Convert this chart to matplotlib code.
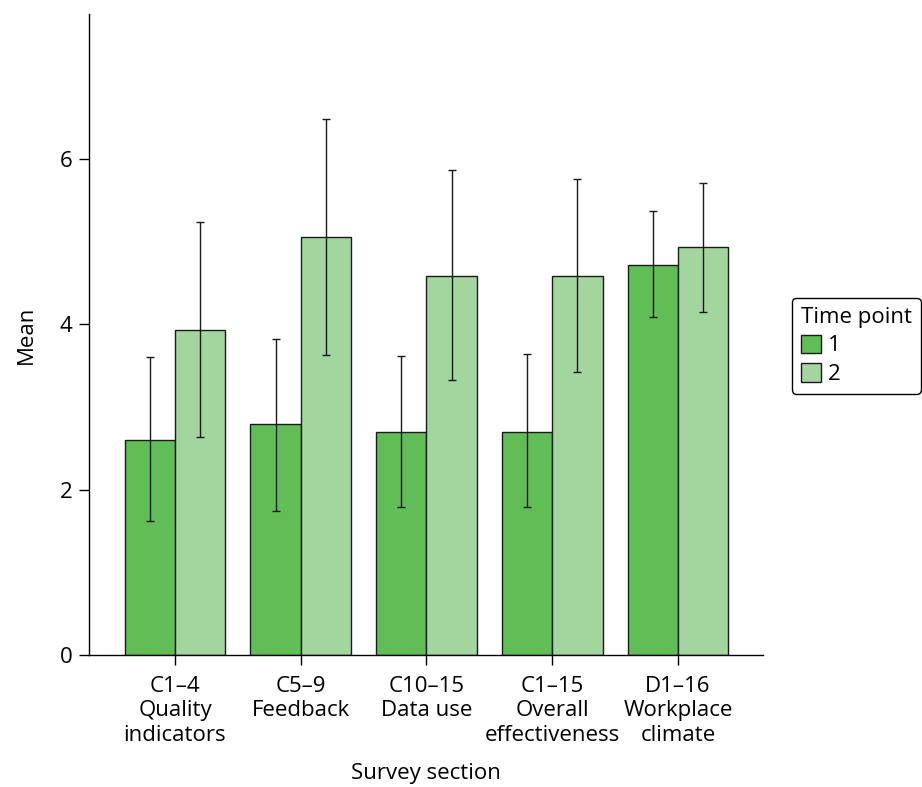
import matplotlib.pyplot as plt
import numpy as np

plt.rcParams["font.family"] = ["Open Sans", "DejaVu Sans"]

sections = [
    "C1–4\nQuality\nindicators",
    "C5–9\nFeedback",
    "C10–15\nData use",
    "C1–15\nOverall\neffectiveness",
    "D1–16\nWorkplace\nclimate",
]
time_points = ["1", "2"]

mean_t1 = [2.60, 2.79, 2.70, 2.70, 4.72]
low_t1 = [1.62, 1.74, 1.79, 1.79, 4.09]
high_t1 = [3.60, 3.82, 3.61, 3.64, 5.37]

mean_t2 = [3.93, 5.05, 4.58, 4.58, 4.93]
low_t2 = [2.63, 3.63, 3.32, 3.42, 4.15]
high_t2 = [5.24, 6.48, 5.86, 5.76, 5.71]

colors = ["#61be57", "#a3d59f"]
fs = 16

fig = plt.figure(figsize=(9.22, 7.87), dpi=100, facecolor="white")
ax = fig.add_axes([0.0965, 0.1677, 0.731, 0.8145])

x = np.arange(1, len(sections) + 1)
width = 0.4

series = [
    (mean_t1, low_t1, high_t1),
    (mean_t2, low_t2, high_t2),
]
for i, (m, lo, hi) in enumerate(series):
    xpos = x + (i - 0.5) * width
    m = np.array(m)
    ax.bar(xpos, m, width=width, color=colors[i], edgecolor="#1a1a1a",
           linewidth=1.0, label=time_points[i], zorder=2)
    yerr = [m - np.array(lo), np.array(hi) - m]
    ax.errorbar(xpos, m, yerr=yerr, fmt="none", ecolor="#1a1a1a",
                elinewidth=1.0, capsize=3.2, capthick=1.0, zorder=3)

ax.set_xlim(0.316, 5.676)
ax.set_ylim(0, 7.75)
ax.set_xticks(x)
ax.set_xticklabels(sections, fontsize=fs, linespacing=1.22)
ax.set_yticks([0, 2, 4, 6])
ax.tick_params(axis="y", labelsize=fs, length=7, width=1, pad=5)
ax.tick_params(axis="x", length=7, width=1, pad=8)

for spine in ["top", "right"]:
    ax.spines[spine].set_visible(False)
for spine in ["left", "bottom"]:
    ax.spines[spine].set_linewidth(1.0)

ax.set_xlabel("Survey section", fontsize=fs, labelpad=12)
ax.set_ylabel("Mean", fontsize=fs, labelpad=16)

leg = fig.legend(
    loc="upper left",
    bbox_to_anchor=(792 / 922, 1 - 298 / 787),
    borderaxespad=0,
    title="Time point",
    fontsize=fs,
    title_fontsize=fs,
    frameon=True,
    fancybox=True,
    edgecolor="black",
    handlelength=0.9,
    handleheight=0.9,
    handletextpad=0.3,
    labelspacing=0.3,
    borderpad=0.4,
)
leg._legend_box.align = "left"
leg.get_frame().set_linewidth(1.0)
leg.get_frame().set_alpha(1.0)

fig.savefig("out.png", dpi=100, facecolor="white")
